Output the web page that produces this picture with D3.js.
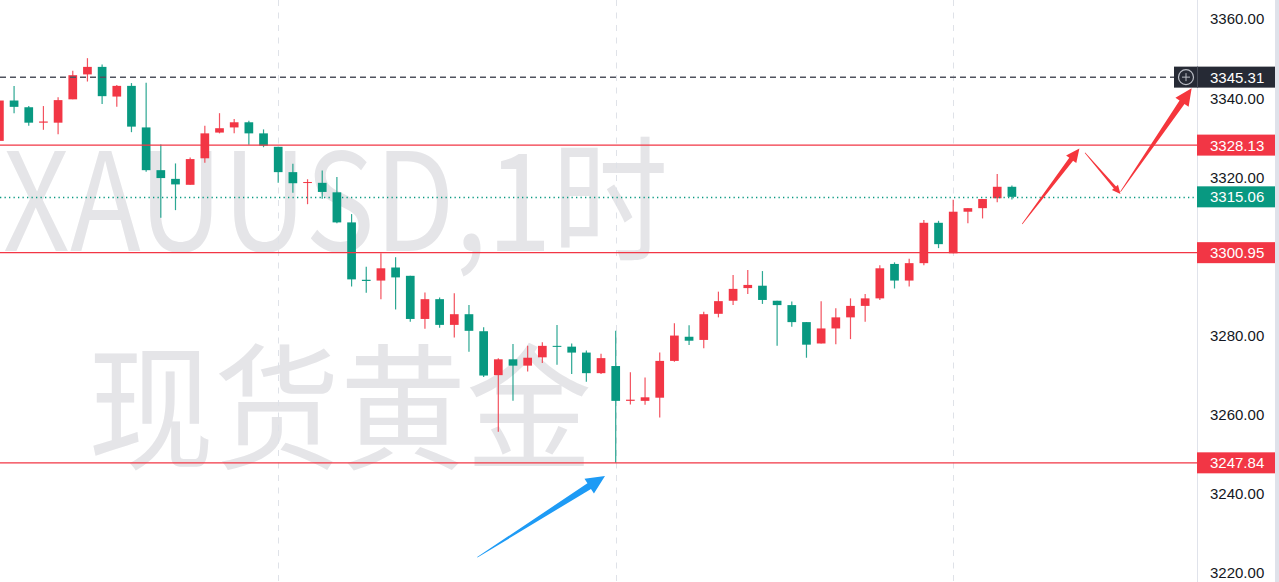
<!DOCTYPE html>
<html>
<head>
<meta charset="utf-8">
<script src="https://cdn.jsdelivr.net/npm/d3@7/dist/d3.min.js"></script>
<style>
html,body{margin:0;padding:0;background:#fff;overflow:hidden;}
svg{display:block;}
</style>
</head>
<body>
<svg id="chart" width="1279" height="582"></svg>
<script>
// ---- DATA (hourly XAUUSD candles) ----
const opens  = [3329.2,3339.4,3337.7,3333.8,3333.8,3339.7,3346.0,3347.9,3340.4,3343.1,3332.6,3321.8,3319.6,3318.1,3324.8,3331.3,3332.6,3333.9,3331.1,3327.7,3321.3,3318.6,3318.6,3316.2,3308.6,3294.1,3293.9,3297.2,3295.1,3284.2,3289.2,3282.7,3285.4,3281.1,3270.0,3274.0,3272.4,3274.5,3277.4,3277.2,3275.7,3270.5,3272.3,3263.5,3263.5,3264.3,3273.6,3279.7,3278.9,3285.5,3288.8,3292.0,3292.6,3288.8,3287.7,3283.4,3278.0,3281.8,3284.6,3287.5,3289.4,3298.1,3293.9,3298.3,3308.5,3300.8,3311.3,3312.2,3314.7,3317.6];
const highs  = [3341.6,3343.1,3338.0,3338.0,3340.2,3346.9,3350.1,3348.5,3343.3,3343.8,3343.9,3328.3,3323.5,3325.0,3333.0,3336.2,3334.7,3334.3,3332.1,3327.7,3323.4,3319.5,3321.7,3320.1,3310.7,3297.4,3300.8,3299.8,3295.1,3290.9,3289.6,3290.7,3287.7,3282.1,3274.3,3277.9,3277.4,3278.3,3282.7,3278.0,3276.2,3275.4,3281.2,3270.7,3269.4,3275.7,3283.1,3282.6,3286.0,3291.1,3295.3,3296.6,3296.3,3288.8,3288.6,3283.4,3288.7,3286.9,3289.4,3290.5,3297.8,3298.5,3299.4,3309.2,3309.0,3314.3,3312.2,3314.5,3320.8,3317.9];
const lows   = [3328.5,3336.2,3333.0,3332.0,3330.9,3339.7,3344.2,3338.5,3337.8,3331.4,3321.4,3309.8,3311.7,3318.1,3323.7,3331.1,3331.1,3328.2,3327.6,3318.6,3316.1,3313.2,3314.6,3308.4,3292.4,3290.8,3289.2,3286.6,3283.5,3281.7,3282.0,3279.5,3275.9,3269.5,3255.7,3263.5,3270.9,3273.1,3272.6,3270.3,3268.3,3270.3,3247.84,3262.6,3262.5,3259.3,3273.4,3277.6,3276.8,3284.6,3287.7,3290.5,3288.0,3277.4,3282.2,3274.4,3278.0,3277.8,3279.1,3283.5,3289.0,3291.9,3292.4,3297.8,3302.1,3300.8,3308.4,3309.6,3313.7,3314.4];
const closes = [3339.4,3337.8,3333.8,3334.1,3339.5,3345.8,3347.9,3340.5,3343.1,3332.8,3321.8,3319.8,3318.2,3324.6,3331.1,3332.4,3333.9,3331.1,3328.0,3321.3,3318.5,3318.8,3316.3,3308.6,3294.2,3293.8,3297.0,3294.7,3284.2,3289.2,3282.7,3285.4,3281.2,3269.9,3274.0,3272.4,3274.4,3277.4,3277.2,3275.7,3270.5,3274.3,3263.5,3263.8,3264.4,3273.6,3280.0,3278.7,3285.4,3288.7,3291.8,3292.8,3289.0,3287.7,3283.4,3277.7,3281.8,3284.6,3287.5,3289.4,3297.0,3293.9,3298.3,3308.5,3303.1,3311.3,3312.2,3314.5,3317.6,3315.06];
const priceTicks = [3220,3240,3260,3280,3300,3320,3340,3360];
const dayStarts = [19, 42, 65];            // candle index of session starts (vertical grid)
const supportResistance = [3328.13, 3300.95, 3247.84];
const lastPrice = 3315.06;
const markPrice = 3345.31;
const watermarkLines = ["XAUUSD,1时", "现货黄金"];
// hand-drawn arrows, in (candle index, price) coordinates
const redArrows = [
  {from:[69.7, 3308.2], to:[73.6, 3327.3], size:0.8},
  {from:[73.98, 3326.2], to:[76.4, 3315.8], size:0.5},
  {from:[76.4, 3316.35], to:[81.25, 3342.5], size:1.0}
];
const blueArrows = [
  {from:[32.57, 3223.96], to:[41.27, 3244.5], size:1.1}
];

// ---- LAYOUT ----
const W = 1279, H = 582;
const paneRight = 1197;
const UP = "#F23645", DOWN = "#089981";
const svg = d3.select("#chart");

const x = d3.scaleLinear().domain([0, 69]).range([-0.6, 1011.9]);
const y = d3.scaleLinear().domain([3220, 3360]).range([573, 19]);
const bodyW = 8.7;
const fmt = d3.format(".2f");

svg.append("rect").attr("width", W).attr("height", H).attr("fill", "#fff");

// watermark
const wm = svg.append("g").attr("fill", "#e5e5e8")
  .attr("font-family", "'Noto Sans CJK SC', 'Noto Sans', sans-serif");
wm.append("text").attr("x", 3).attr("y", 251).attr("font-size", 136)
  .attr("textLength", 665).attr("lengthAdjust", "spacingAndGlyphs")
  .text(watermarkLines[0]);
wm.append("text").attr("x", 88).attr("y", 459).attr("font-size", 136)
  .attr("textLength", 504).attr("lengthAdjust", "spacingAndGlyphs")
  .text(watermarkLines[1]);

// vertical dashed grid
svg.append("g").selectAll("line").data(dayStarts).join("line")
  .attr("x1", d => Math.round(x(d)) + 0.5).attr("x2", d => Math.round(x(d)) + 0.5)
  .attr("y1", 0).attr("y2", H)
  .attr("stroke", "#dfe2e8").attr("stroke-width", 1).attr("stroke-dasharray", "6,6.5");

// candles
const candles = d3.range(opens.length).map(i => ({i, o: opens[i], h: highs[i], l: lows[i], c: closes[i]}));
const cg = svg.append("g");
cg.selectAll("line").data(candles).join("line")
  .attr("x1", d => x(d.i)).attr("x2", d => x(d.i))
  .attr("y1", d => y(d.h)).attr("y2", d => y(d.l))
  .attr("stroke", d => d.c >= d.o ? UP : DOWN).attr("stroke-width", 1.2).attr("opacity", 0.85);
cg.selectAll("rect").data(candles).join("rect")
  .attr("x", d => x(d.i) - bodyW / 2).attr("width", bodyW)
  .attr("y", d => y(Math.max(d.o, d.c)))
  .attr("height", d => Math.max(1, Math.abs(y(d.o) - y(d.c))))
  .attr("fill", d => d.c >= d.o ? UP : DOWN);

// horizontal levels
svg.append("g").selectAll("line").data(supportResistance).join("line")
  .attr("x1", 0).attr("x2", paneRight)
  .attr("y1", d => y(d)).attr("y2", d => y(d))
  .attr("stroke", UP).attr("stroke-width", 1.2);

// last price dotted line
svg.append("line").attr("x1", 0).attr("x2", paneRight)
  .attr("y1", Math.round(y(lastPrice)) + 0.5).attr("y2", Math.round(y(lastPrice)) + 0.5)
  .attr("stroke", DOWN).attr("stroke-width", 1.3).attr("stroke-dasharray", "1.3,3.2");

// crosshair price dashed line
svg.append("line").attr("x1", 0).attr("x2", 1174)
  .attr("y1", y(markPrice)).attr("y2", y(markPrice))
  .attr("stroke", "#50535e").attr("stroke-width", 1.5).attr("stroke-dasharray", "6,4");

// arrows (tapered)
function arrowPath(a) {
  const p0 = [x(a.from[0]), y(a.from[1])], p1 = [x(a.to[0]), y(a.to[1])];
  const dx = p1[0] - p0[0], dy = p1[1] - p0[1], L = Math.hypot(dx, dy);
  const ux = dx / L, uy = dy / L, nx = -uy, ny = ux;
  const s = a.size;
  const hl = 17 * s, hw = 8 * s, sw = 3 * s, tw = 0.3;
  const nk = [p1[0] - ux * hl, p1[1] - uy * hl];
  const pts = [
    [p0[0] + nx * tw, p0[1] + ny * tw],
    [nk[0] + nx * sw, nk[1] + ny * sw],
    [nk[0] + nx * hw, nk[1] + ny * hw],
    p1,
    [nk[0] - nx * hw, nk[1] - ny * hw],
    [nk[0] - nx * sw, nk[1] - ny * sw],
    [p0[0] - nx * tw, p0[1] - ny * tw]
  ];
  return d3.line()(pts) + "Z";
}
svg.append("g").selectAll("path").data(redArrows).join("path")
  .attr("d", arrowPath).attr("fill", "#F5363C");
svg.append("g").selectAll("path").data(blueArrows).join("path")
  .attr("d", arrowPath).attr("fill", "#1E9BF5");

// price axis
const axisG = svg.append("g").attr("font-family", "'Liberation Sans', Arial, sans-serif").attr("font-size", 15);
axisG.append("rect").attr("x", paneRight).attr("y", 0).attr("width", W - paneRight).attr("height", H).attr("fill", "#fff");
axisG.append("line").attr("x1", paneRight + 0.5).attr("x2", paneRight + 0.5).attr("y1", 0).attr("y2", H)
  .attr("stroke", "#e0e3eb");
axisG.append("rect").attr("x", 1275).attr("y", 0).attr("width", 4).attr("height", H).attr("fill", "#dfe2ea");
// ticks hidden behind a price label are not drawn (as on the reference)
const labelled = supportResistance.concat([lastPrice, markPrice]);
const visibleTicks = priceTicks.filter(t => labelled.every(v => Math.abs(y(t) - y(v)) > 14));
axisG.selectAll("text.tick").data(visibleTicks).join("text").attr("class", "tick")
  .attr("x", 1210).attr("y", d => y(d)).attr("dy", "0.36em")
  .attr("fill", "#131722").text(d => fmt(d));

function priceLabel(v, fill, x0) {
  axisG.append("rect").attr("x", x0).attr("y", y(v) - 10.5).attr("width", 1275 - x0).attr("height", 21).attr("fill", fill);
  axisG.append("text").attr("x", 1210).attr("y", y(v)).attr("dy", "0.36em").attr("fill", "#fff").text(fmt(v));
}
supportResistance.forEach(v => priceLabel(v, UP, paneRight));
priceLabel(lastPrice, DOWN, paneRight);
priceLabel(markPrice, "#262a35", 1174);
// crosshair icon
const cy = y(markPrice);
axisG.append("circle").attr("cx", 1186).attr("cy", cy).attr("r", 7.5).attr("fill", "none").attr("stroke", "#b9bcc4").attr("stroke-width", 1.2);
axisG.append("line").attr("x1", 1182).attr("x2", 1190).attr("y1", cy).attr("y2", cy).attr("stroke", "#b9bcc4");
axisG.append("line").attr("x1", 1186).attr("x2", 1186).attr("y1", cy - 4).attr("y2", cy + 4).attr("stroke", "#b9bcc4");
axisG.append("line").attr("x1", paneRight + 0.5).attr("x2", paneRight + 0.5).attr("y1", cy - 10.5).attr("y2", cy + 10.5).attr("stroke", "#4a4e5a");
</script>
</body>
</html>
